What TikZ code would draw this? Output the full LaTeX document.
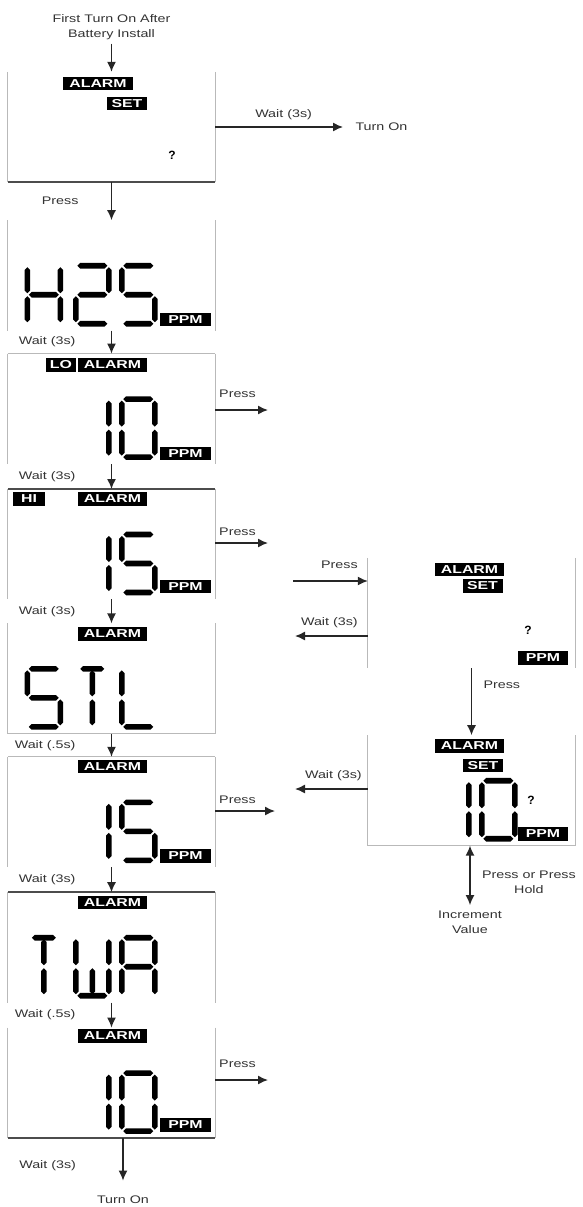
\documentclass[tikz,border=0pt]{standalone}
\usepackage{fontspec}
\setmainfont{Liberation Sans}
\usetikzlibrary{positioning,arrows.meta}

\newfontfamily\stretchfam[FakeStretch=1.3]{Liberation Sans}
\newfontfamily\tagfam[FakeStretch=1.38]{Liberation Sans}
\newcommand{\lblfont}{\stretchfam\fontsize{11}{15}\selectfont}
\newcommand{\tagfont}{\tagfam\bfseries\fontsize{11.5}{13}\selectfont}

% one lcd character: screen, x offset, segments
\newcommand{\lcdchar}[3]{\foreach \s in {#3}{\pic at ([shift={(#2,45.5)}]#1.north west) {seg \s};}}
% tapered segments: x, y, length
\newcommand{\hseg}[3]{\fill (#1,#2) -- ++(2.8,-2.8) -- ++(#3-5.6,0) -- ++(2.8,2.8) -- ++(-2.8,2.8) -- ++(5.6-#3,0) -- cycle;}
\newcommand{\vseg}[3]{\fill (#1,#2) -- ++(2.8,2.8) -- ++(0,#3-5.6) -- ++(-2.8,2.8) -- ++(-2.8,-2.8) -- ++(0,5.6-#3) -- cycle;}

\tikzset{
  seg a/.pic={\hseg{1.5}{0}{30}},
  seg b/.pic={\vseg{33}{1.5}{26}},
  seg c/.pic={\vseg{33}{30.5}{26}},
  seg d/.pic={\hseg{1.5}{58}{30}},
  seg e/.pic={\vseg{0}{30.5}{26}},
  seg f/.pic={\vseg{0}{1.5}{26}},
  seg g/.pic={\hseg{1.5}{29}{30}},
  seg h/.pic={\vseg{16.5}{1.5}{26}},
  seg i/.pic={\vseg{16.5}{30.5}{26}},
  seg t/.pic={\hseg{4.5}{0}{24}}
}

\begin{document}
\begin{tikzpicture}[x=1pt,y=-1pt,>={Latex[length=10pt,width=9pt]},
  screen/.style={minimum width=207pt,minimum height=110pt,inner sep=0pt},
  tag/.style={fill=black,text=white,font=\tagfont,inner sep=0pt,minimum height=13.5pt},
  qmark/.style={font=\bfseries\fontsize{12}{12}\selectfont},
  side/.style={draw=gray!55,line width=1.3pt},
  rim/.style={draw=black!70,line width=1.5pt},
  flow/.style={->,draw=black!85,line width=1.4pt},
  lbl/.style={font=\lblfont,text=black!80,align=center}]
\useasboundingbox (0,0) rectangle (582,1207);

% screens, left column
\node[screen] (b1) at (111.5,127) {};
\node[screen,below=38pt of b1] (b2) {};
\node[screen,below=23pt of b2] (b3) {};
\node[screen,below=25pt of b3] (b4) {};
\node[screen,below=24pt of b4] (b5) {};
\node[screen,below=23pt of b5] (b6) {};
\node[screen,below=25pt of b6] (b7) {};
\node[screen,below=25pt of b7] (b8) {};
% screens, right column
\node[screen] (r1) at (471.5,613) {};
\node[screen,below=67pt of r1] (r2) {};

\foreach \n in {b1,b2,b3,b4,b5,b6,b7,b8,r1,r2}
  \draw[side] (\n.north west) -- (\n.south west) (\n.north east) -- (\n.south east);
\draw[rim] (b1.south west) -- (b1.south east);
\draw[side] (b3.north west) -- (b3.north east);
\draw[rim] (b4.north west) -- (b4.north east);
\draw[side] (b5.south west) -- (b5.south east);
\draw[side] (b6.north west) -- (b6.north east);
\draw[rim] (b7.north west) -- (b7.north east);
\draw[rim] (b8.south west) -- (b8.south east);
\draw[side] (r2.south west) -- (r2.south east);

% tags
\node[tag,minimum width=70pt] (alarm1) at (98,83.5) {ALARM};
\node[tag,minimum width=40pt] (set1) at (127,103.5) {SET};
\node[qmark] (q1) at (172,155) {?};
\node[tag,minimum width=51pt] (ppm2) at (185.5,319.5) {PPM};
\node[tag,minimum width=30pt] (lo3) at (61,365) {LO};
\node[tag,minimum width=69pt] (alarm3) at (112.5,365) {ALARM};
\node[tag,minimum width=51pt] (ppm3) at (185.5,453.5) {PPM};
\node[tag,minimum width=32pt] (hi4) at (29,499) {HI};
\node[tag,minimum width=69pt] (alarm4) at (112.5,499) {ALARM};
\node[tag,minimum width=51pt] (ppm4) at (185.5,586.5) {PPM};
\node[tag,minimum width=69pt] (alarm5) at (112.5,634) {ALARM};
\node[tag,minimum width=69pt] (alarm6) at (112.5,766.5) {ALARM};
\node[tag,minimum width=51pt] (ppm6) at (185.5,856) {PPM};
\node[tag,minimum width=69pt] (alarm7) at (112.5,902.5) {ALARM};
\node[tag,minimum width=69pt] (alarm8) at (112.5,1036) {ALARM};
\node[tag,minimum width=51pt] (ppm8) at (185.5,1125) {PPM};
\node[tag,minimum width=69pt] (alarmr1) at (469.5,569.5) {ALARM};
\node[tag,minimum width=40pt] (setr1) at (482.5,586) {SET};
\node[qmark] (qr1) at (528,630) {?};
\node[tag,minimum width=50pt] (ppmr1) at (543,658) {PPM};
\node[tag,minimum width=69pt] (alarmr2) at (469.5,746) {ALARM};
\node[tag,minimum width=40pt] (setr2) at (483,765.5) {SET};
\node[qmark] (qr2) at (531,800) {?};
\node[tag,minimum width=50pt] (ppmr2) at (543,834) {PPM};

% digits
\lcdchar{b2}{19.5}{b,c,e,f,g}
\lcdchar{b2}{68}{a,b,g,e,d}
\lcdchar{b2}{114}{a,f,g,c,d}
\lcdchar{b3}{68}{b,c}
\lcdchar{b3}{114}{a,b,c,d,e,f}
\lcdchar{b4}{68}{b,c}
\lcdchar{b4}{114}{a,f,g,c,d}
\lcdchar{b5}{19.5}{a,f,g,c,d}
\lcdchar{b5}{68}{t,h,i}
\lcdchar{b5}{114}{f,e,d}
\lcdchar{b6}{68}{b,c}
\lcdchar{b6}{114}{a,f,g,c,d}
\lcdchar{b7}{19.5}{t,h,i}
\lcdchar{b7}{68}{f,e,b,c,i,d}
\lcdchar{b7}{114}{a,b,c,e,f,g}
\lcdchar{b8}{68}{b,c}
\lcdchar{b8}{114}{a,b,c,d,e,f}
\lcdchar{r2}{68}{b,c}
\lcdchar{r2}{114}{a,b,c,d,e,f}

% flow, left column
\node[lbl] (start) at (111.5,27.5) {First Turn On After\\Battery Install};
\draw[flow] (start) -- (b1);
\node[lbl,anchor=west] (on1) at (352,127) {Turn On};
\draw[flow,shorten >=9pt] (b1) -- (on1) node[lbl,midway,above,yshift=3pt] {Wait (3s)};
\draw[flow] (b1) -- (b2) node[lbl,midway,left=29pt] {Press};
\draw[flow] (b2) -- (b3) node[lbl,midway,left=32pt] {Wait (3s)};
\draw[flow] (b3) -- (b4) node[lbl,midway,left=32pt] {Wait (3s)};
\draw[flow] (b4) -- (b5) node[lbl,midway,left=32pt] {Wait (3s)};
\draw[flow] (b5) -- (b6) node[lbl,midway,left=32pt] {Wait (.5s)};
\draw[flow] (b6) -- (b7) node[lbl,midway,left=32pt] {Wait (3s)};
\draw[flow] (b7) -- (b8) node[lbl,midway,left=32pt] {Wait (.5s)};
\node[lbl] (off) at (123,1200) {Turn On};
\draw[flow,shorten >=12pt] (b8.south -| off) -- (off) node[lbl,midway,left=43pt] {Wait (3s)};

% press exits
\coordinate (p3) at (268,410);
\coordinate (p4) at (268,543);
\coordinate (p6) at (275,811);
\coordinate (p8) at (268,1080);
\draw[flow] (b3.east |- p3) -- (p3) node[lbl,pos=0,above right,yshift=8pt] {Press};
\draw[flow] (b4.east |- p4) -- (p4) node[lbl,pos=0,above right,yshift=3pt] {Press};
\draw[flow] (b6.east |- p6) -- (p6) node[lbl,pos=0,above right,yshift=3pt] {Press};
\draw[flow] (b8.east |- p8) -- (p8) node[lbl,pos=0,above right,yshift=8pt] {Press};

% flow, right column
\coordinate (in1) at (293,581);
\coordinate (out1) at (295,636);
\coordinate (out2) at (295,789);
\draw[flow] (in1) -- (in1 -| r1.west) node[lbl,midway,above,xshift=9pt,yshift=8pt] {Press};
\draw[flow] (out1 -| r1.west) -- (out1) node[lbl,midway,above,xshift=-2pt,yshift=4pt] {Wait (3s)};
\draw[flow] (r1) -- (r2) node[lbl,pos=0.25,right=8pt] {Press};
\draw[flow] (out2 -| r2.west) -- (out2) node[lbl,midway,above,xshift=2pt,yshift=4pt] {Wait (3s)};
\node[lbl] (inc) at (470,922) {Increment\\Value};
\draw[flow,<->,shorten >=2pt] (r2.south -| inc) -- (inc) node[lbl,midway,right=8pt,yshift=-6pt] {Press or Press\\Hold};
\end{tikzpicture}
\end{document}
